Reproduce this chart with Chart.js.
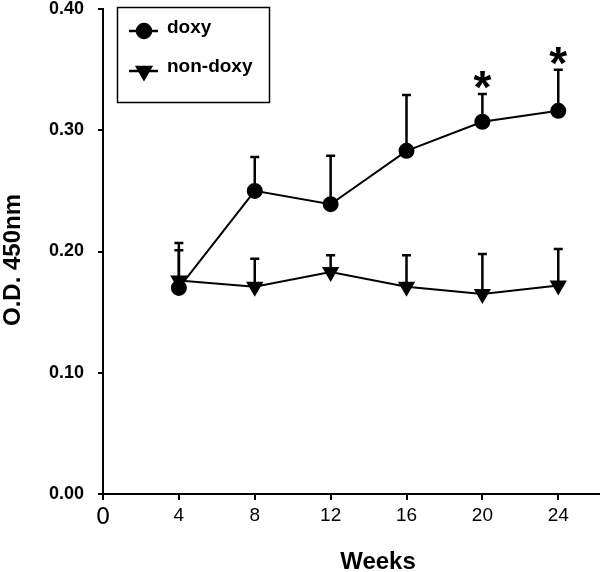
<!DOCTYPE html>
<html>
<head>
<meta charset="utf-8">
<script src="https://cdn.jsdelivr.net/npm/chart.js@4"></script>
<style>
  html, body { margin: 0; padding: 0; background: #fff; overflow: hidden; }
  #wrap { width: 600px; height: 572px; position: relative; }
</style>
</head>
<body>
<div id="wrap"><canvas id="myChart"></canvas></div>
<script>
// data
const weeks = [4, 8, 12, 16, 20, 24];
const doxy = [0.170, 0.250, 0.239, 0.283, 0.307, 0.316];
const doxyErr = [0.037, 0.028, 0.040, 0.046, 0.023, 0.034];
const nonDoxy = [0.176, 0.171, 0.183, 0.171, 0.165, 0.172];
const nonDoxyErr = [0.025, 0.023, 0.014, 0.026, 0.033, 0.030];
const significant = [20, 24]; // weeks marked with *
const yTicks = [0, 0.1, 0.2, 0.3, 0.4];
const xTicks = [0, 4, 8, 12, 16, 20, 24];

const font = "Arial, 'Liberation Sans', sans-serif";

// upward error bars with caps, drawn under the markers
const errorBars = {
  id: "errorBars",
  beforeDatasetsDraw(chart) {
    const c = chart.ctx;
    const y = chart.scales.y;
    c.save();
    c.strokeStyle = "#000";
    c.lineWidth = 2.5;
    chart.data.datasets.forEach((ds, i) => {
      const meta = chart.getDatasetMeta(i);
      meta.data.forEach((pt, j) => {
        const top = y.getPixelForValue(ds.data[j].y + ds.err[j]);
        c.beginPath();
        c.moveTo(pt.x, pt.y);
        c.lineTo(pt.x, top);
        c.moveTo(pt.x - 4.5, top);
        c.lineTo(pt.x + 4.5, top);
        c.stroke();
      });
    });
    c.restore();
  },
  afterDatasetsDraw(chart) {
    // asterisks above significant doxy points
    const c = chart.ctx;
    const x = chart.scales.x, y = chart.scales.y;
    c.save();
    c.fillStyle = "#000";
    c.font = "bold 46px " + font;
    c.textAlign = "center";
    c.textBaseline = "alphabetic";
    const m = c.measureText("*");
    const shift = (m.actualBoundingBoxDescent - m.actualBoundingBoxAscent) / 2;
    significant.forEach((w) => {
      const j = weeks.indexOf(w);
      const top = y.getPixelForValue(doxy[j] + doxyErr[j]);
      c.fillText("*", x.getPixelForValue(w), top - 14 - shift);
    });
    c.restore();
  },
};

// legend box inside the plot, axis titles
const extras = {
  id: "extras",
  afterDraw(chart) {
    const c = chart.ctx;
    c.save();
    c.strokeStyle = "#000";
    c.lineWidth = 1.5;
    c.strokeRect(117.5, 7.5, 152, 95);

    const items = [
      { label: "doxy", style: "circle", radius: 7, rot: 0, y: 31, ty: 28 },
      { label: "non-doxy", style: "triangle", radius: 8, rot: 180, y: 71, ty: 67 },
    ];
    items.forEach((it) => {
      c.lineWidth = 2.5;
      c.beginPath();
      c.moveTo(129, it.y);
      c.lineTo(158, it.y);
      c.stroke();
      c.fillStyle = "#000";
      Chart.helpers.drawPoint(c, {
        pointStyle: it.style,
        radius: it.radius,
        rotation: it.rot,
        borderWidth: 1,
      }, 144, it.y);
      c.fill();
      c.font = "bold 19px " + font;
      c.textAlign = "left";
      c.textBaseline = "middle";
      c.fillText(it.label, 167, it.ty);
    });

    c.font = "bold 24px " + font;
    c.textAlign = "center";
    c.textBaseline = "middle";
    c.fillText("Weeks", 378, 562);

    c.translate(13, 260);
    c.rotate(-Math.PI / 2);
    c.fillText("O.D. 450nm", 0, 0);
    c.restore();
  },
};

const ctx = document.getElementById("myChart");

new Chart(ctx, {
  type: "line",
  data: {
    datasets: [
      {
        label: "doxy",
        data: weeks.map((w, i) => ({ x: w, y: doxy[i] })),
        err: doxyErr,
        borderColor: "#000",
        backgroundColor: "#000",
        borderWidth: 2,
        pointStyle: "circle",
        pointRadius: 7,
        tension: 0,
      },
      {
        label: "non-doxy",
        data: weeks.map((w, i) => ({ x: w, y: nonDoxy[i] })),
        err: nonDoxyErr,
        borderColor: "#000",
        backgroundColor: "#000",
        borderWidth: 2,
        pointStyle: "triangle",
        pointRotation: 180,
        pointRadius: 8,
        tension: 0,
      },
    ],
  },
  options: {
    responsive: true,
    maintainAspectRatio: false,
    animation: false,
    layout: { autoPadding: false, padding: 0 },
    scales: {
      x: {
        type: "linear",
        min: 0,
        max: 26.2,
        afterBuildTicks: (s) => { s.ticks = xTicks.map((v) => ({ value: v })); },
        afterFit: (s) => { s.height = 78; },
        ticks: {
          color: "#000",
          padding: 4,
          font: (c) => c.tick && c.tick.value === 0
            ? { family: "'DejaVu Sans', sans-serif", size: 23 }
            : { family: font, size: 19 },
        },
        grid: { drawOnChartArea: false, drawTicks: true, tickLength: 6, color: "#000", lineWidth: 2 },
        border: { color: "#000", width: 2 },
      },
      y: {
        min: 0,
        max: 0.4,
        afterBuildTicks: (s) => { s.ticks = yTicks.map((v) => ({ value: v })); },
        afterFit: (s) => { s.width = 103; s.paddingTop = 9; },
        ticks: {
          color: "#000",
          padding: 14,
          font: { family: font, size: 18, weight: "bold" },
          callback: (v) => v.toFixed(2),
        },
        grid: { drawOnChartArea: false, drawTicks: true, tickLength: 5, color: "#000", lineWidth: 2 },
        border: { color: "#000", width: 2 },
      },
    },
    plugins: {
      legend: { display: false },
      tooltip: { enabled: false },
    },
  },
  plugins: [errorBars, extras],
});
</script>
</body>
</html>
